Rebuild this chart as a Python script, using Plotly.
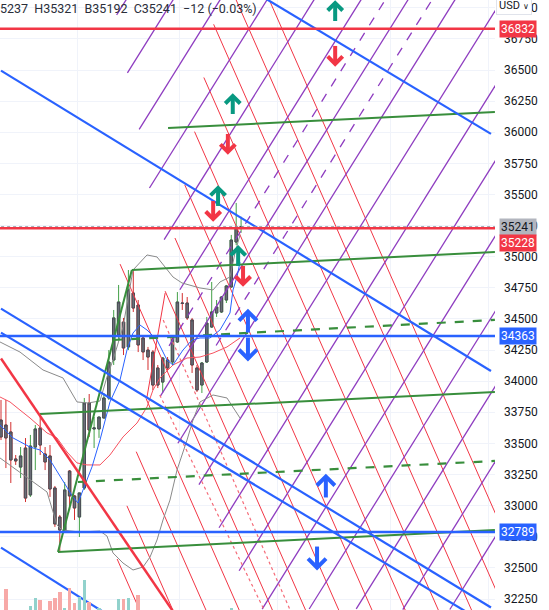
import plotly.graph_objects as go

# ---------------- data (bar index / price) ----------------
bars = list(range(50))
opens = [33688, 33648, 33592, 33375, 33310, 33463, 33086, 33471, 33624, 33415,
         33399, 33142, 32909, 32788, 33278, 33078, 32909, 33142, 33825, 33616,
         33616, 33704, 33865, 34170, 34371, 34475, 34275, 34708, 34612, 34347,
         34250, 34234, 34106, 33993, 34170, 34154, 34315, 34628, 34628, 34492,
         34106, 33969, 34154, 34435, 34548, 34556, 34652, 34757, 35118, 35237]
highs = [33849, 33849, 33672, 33407, 33471, 33543, 33568, 33648, 33728, 33471,
         33487, 33158, 32925, 33190, 33286, 33086, 33102, 33865, 33897, 33712,
         33712, 33905, 34250, 34572, 34773, 34508, 34893, 34893, 34652, 34363,
         34275, 34250, 34130, 34194, 34194, 34371, 34716, 34708, 34676, 34508,
         34130, 34154, 34516, 34797, 34652, 34684, 34773, 35175, 35432, 35321]
lows = [33527, 33302, 33182, 33327, 33222, 33029, 33070, 33286, 33407, 33286,
        33070, 32829, 32628, 32780, 32965, 32885, 32748, 33126, 33552, 33463,
        33544, 33704, 33849, 34130, 34331, 34210, 34250, 34556, 34234, 34170,
        34090, 33929, 33945, 33905, 34090, 34130, 34307, 34572, 34492, 34066,
        33913, 33905, 34146, 34427, 34516, 34548, 34628, 34749, 35094, 35192]
closes = [33552, 33544, 33367, 33359, 33399, 33061, 33479, 33616, 33487, 33351,
          33134, 32853, 32804, 33126, 33078, 32981, 33102, 33825, 33608, 33624,
          33712, 33865, 34154, 34508, 34636, 34267, 34733, 34588, 34291, 34235,
          34194, 33969, 33969, 34186, 34106, 34355, 34636, 34624, 34508, 34130,
          33929, 34146, 34467, 34556, 34596, 34676, 34765, 35134, 35239, 35241]
volumes = [0, 3.4, 0, 0, 0, 0, 0.7, 2.0, 1.6, 0,
           1.5, 2.0, 3.0, 0.4, 3.6, 1.1, 2.1, 4.9, 1.3, 0,
           0.3, 0, 0, 0, 1.8, 1.8, 2.0, 0, 2.5, 0,
           0, 0, 0, 0, 0, 0, 0, 0, 0, 0,
           0, 0, 0, 0, 0, 0, 0, 0.3, 0, 0]

# indicator lines
bb_up_x = [-0.2, 3.88, 8.57, 12.65, 14.08, 15.51, 17.76, 20.2, 21.63, 22.86, 24.9, 26.94,
           29.8, 31.84, 35.1, 36.94, 40.6, 43.27, 44.69, 46.73, 47.76, 48.78]
bb_up_y = [34315, 34234, 34090, 34026, 33929, 33833, 33825, 33841, 34034, 34170, 34435, 34893,
           35014, 34998, 34837, 34789, 34749, 34733, 34797, 34837, 35030, 35175]
bb_lo_x = [-0.2, 5.31, 9.39, 11.43, 12.45, 16.12, 20.2, 21.63, 22.86, 24.9, 26.94, 28.98,
           30.41, 31.84, 33.06, 34.49, 35.92, 37.96, 39.18, 40.61, 43.27, 46.12, 48.16, 48.78]
bb_lo_y = [33383, 33230, 33110, 32845, 32804, 32788, 32796, 32756, 32620, 32539, 32483, 32507,
           32587, 32724, 32885, 33045, 33286, 33527, 33688, 33833, 33889, 33865, 33744, 33704]
ma_blue_x = [-0.2, 2.45, 5.92, 7.96, 10, 12.45, 14.69, 15.71, 16.73, 18.57, 20.2, 21.63, 22.24,
             24.29, 25.71, 26.94, 28.37, 29.8, 31.84, 33.88, 35.1, 37.14, 38.98, 40.61, 42.65,
             44.69, 46.73, 47.35, 48.16, 48.78]
ma_blue_y = [33648, 33544, 33471, 33447, 33367, 33206, 33069, 33021, 33126, 33311, 33527, 33744,
             33833, 34010, 34250, 34387, 34451, 34411, 34331, 34170, 34130, 34250, 34331, 34347,
             34347, 34411, 34548, 34733, 34837, 34957]
ma_red_x = [-0.2, 1.84, 3.88, 5.92, 9.39, 11.43, 13.47, 15.51, 17.55, 20.2, 22.24, 24.9, 27.76,
            29.8, 31.02, 32.45, 35.1, 37.96, 40.61, 43.27, 46.12, 48.78]
ma_red_y = [33873, 33833, 33768, 33704, 33584, 33544, 33431, 33343, 33327, 33327, 33407, 33552,
            33664, 33793, 33929, 34026, 34130, 34186, 34194, 34226, 34275, 34347]

# drawings: straight lines as (bar, price) anchor pairs
blue_lines = [((0, 36495), (100, 34082)), ((50, 37168), (100, 35987)),
              ((0, 34583), (100, 32182)), ((0, 34390), (100, 32028)),
              ((0, 32663), (30, 31920))]
green_lines = [((34.1, 36034), (100.8, 36163)), ((26.7, 34893), (100.8, 35038)),
               ((7.96, 33736), (100.8, 33913)), ((11.63, 32628), (100.8, 32804)),
               ((11.63, 32628), (26.7, 34893))]
green_dashed = [((22.9, 34331), (100.8, 34492)), ((15.7, 33190), (100.8, 33359))]
red_thick = [((0, 34182), (40, 31868))]
red_steep = [((29.8, 33873), (33.5, 34708))]
pink_dotted = [((33.1, 34492), (59, 32162)), ((32.4, 33889), (53.7, 32162))]
h_blue = [34363, 32789]
h_red = [36832, 35228]
last_price = 35241

# parallel families: price = intercept + slope * bar, starting at a bar
purple_slope = 63.0
purple_icpt = [35455, 34851, 34247, 33643, 33039, 32435, 31831, 31227, 30623, 30019,
               29415, 28811, 28207, 27603, 26999, 26395]
purple_start = [23.6, 25.8, 28.2, 30.3, 33.3, 36.5, 32.5, 36.1, 40.4, 44.5,
                48.6, 53.3, 62.9, 72.5, 82.0, 91.6]
purple_dash_icpt = [32123, 31521]
purple_dash_start = [34.3, 43.9]
red_slope = -89.4
red_icpt = [34690, 35296, 35901, 36507, 37113, 37718, 38324, 38930, 39536, 40141,
            40747, 41353, 41958]
red_start = [23.7, 25.7, 27.6, 29.6, 24.3, 33.5, 35.5, 37.5, 39.5, 41.4, 43.4, 45.0, 52.0]

# arrows: (bar, price)
arrows_green = [(68.2, 36966), (47.3, 36219), (44.3, 35480), (48.4, 34998)]
arrows_red = [(68.2, 36621), (46.3, 35914), (43.3, 35375), (49.4, 34853)]
arrows_blue = [(50.4, 34475, 'up'), (50.4, 34266, 'down'), (66.3, 33150, 'up'), (64.5, 32587, 'down')]

price_tags = [(36832, 36832, '#f23645', 'white'), (35241, 35241, '#b2b5be', '#131722'),
              (35228, 35110, '#f23645', 'white'), (34363, 34363, '#2962ff', 'white'),
              (32789, 32789, '#2962ff', 'white')]
header = "5237  H35321  B35192  C35241  \u221212 (\u22120.03%)"

# ---------------- figure ----------------
X0, X1 = -0.204, 100.82
Y0, Y1 = 32161.6, 37062.4
PX = 1 / 4.9          # bar units per pixel
PY = 8.034            # price units per pixel

fig = go.Figure()

vol_colors = ['#92d2cc' if c >= o else '#f7a9a7' for o, c in zip(opens, closes)]
fig.add_trace(go.Bar(x=bars, y=volumes, marker_color=vol_colors, width=0.7,
                     marker_line_width=0, yaxis='y2', hoverinfo='skip'))

def seg(p, q, color, width, dash='solid', opacity=1.0):
    fig.add_trace(go.Scatter(x=[p[0], q[0]], y=[p[1], q[1]], mode='lines',
                             line=dict(color=color, width=width, dash=dash),
                             opacity=opacity, hoverinfo='skip'))

# families
for ic, st in zip(red_icpt, red_start):
    seg((st, ic + red_slope * st), (X1 + 5, ic + red_slope * (X1 + 5)), '#f23645', 1)
for ic, st in zip(purple_icpt, purple_start):
    seg((st, ic + purple_slope * st), (X1 + 5, ic + purple_slope * (X1 + 5)), '#8e3cc0', 1.3)
for ic, st in zip(purple_dash_icpt, purple_dash_start):
    seg((st, ic + purple_slope * st), (X1 + 5, ic + purple_slope * (X1 + 5)), '#8e3cc0', 1.3, 'dash')
for p, q in pink_dotted:
    seg(p, q, '#f56b78', 1.2, 'dot')
for p, q in red_steep:
    seg(p, q, '#f23645', 1)

# indicators
fig.add_trace(go.Scatter(x=bb_up_x, y=bb_up_y, mode='lines', line=dict(color='#8a8a8a', width=1), hoverinfo='skip'))
fig.add_trace(go.Scatter(x=bb_lo_x, y=bb_lo_y, mode='lines', line=dict(color='#8a8a8a', width=1), hoverinfo='skip'))
fig.add_trace(go.Scatter(x=ma_red_x, y=ma_red_y, mode='lines', line=dict(color='#f7525f', width=1), hoverinfo='skip'))
fig.add_trace(go.Scatter(x=ma_blue_x, y=ma_blue_y, mode='lines', line=dict(color='#2962ff', width=1), hoverinfo='skip'))

# candles: coloured wicks, grey bodies
fig.add_trace(go.Candlestick(x=bars, open=opens, high=highs, low=lows, close=closes,
                             increasing=dict(line=dict(color='#43a047', width=1), fillcolor='#6b6e78'),
                             decreasing=dict(line=dict(color='#d32f2f', width=1), fillcolor='#6b6e78'),
                             hoverinfo='skip'))
body_hi = [max(o, c) for o, c in zip(opens, closes)]
body_lo = [min(o, c) for o, c in zip(opens, closes)]
fig.add_trace(go.Candlestick(x=bars, open=body_lo, high=body_hi, low=body_lo, close=body_hi,
                             increasing=dict(line=dict(color='#4a4d56', width=1), fillcolor='#6b6e78'),
                             decreasing=dict(line=dict(color='#4a4d56', width=1), fillcolor='#6b6e78'),
                             hoverinfo='skip'))

# thick drawings
for p, q in green_lines:
    seg(p, q, '#388e3c', 2)
for p, q in green_dashed:
    seg(p, q, '#388e3c', 2.2, 'dash')
for p, q in red_thick:
    seg(p, q, '#f23645', 2.5)
for p, q in blue_lines:
    seg(p, q, '#2962ff', 2.2)
for h in h_blue:
    seg((X0 - 1, h), (X1 + 1, h), '#2962ff', 2.5)
seg((X0 - 1, last_price), (X1 + 1, last_price), '#9598a1', 1, 'dot')
for h in h_red:
    seg((X0 - 1, h), (X1 + 1, h), '#f23645', 2.5)

# arrows
def arrow(b, p, up, color, size=18, head=7):
    half = size / 2
    tip = p + (half * PY if up else -half * PY)
    tail = p - (half * PY if up else -half * PY)
    hy = tip - (head * PY if up else -head * PY)
    xs = [b, b, None, b - head * PX, b, b + head * PX]
    ys = [tail, tip, None, hy, tip, hy]
    fig.add_trace(go.Scatter(x=xs, y=ys, mode='lines', line=dict(color=color, width=4),
                             hoverinfo='skip'))

for b, p in arrows_green:
    arrow(b, p, True, '#089981', 18, 7.5)
for b, p in arrows_red:
    arrow(b, p, False, '#f23645', 18, 7.5)
for b, p, d in arrows_blue:
    arrow(b, p, d == 'up', '#2962ff', 21, 9)

annos = []
for val, pos, bg, fg in price_tags:
    annos.append(dict(xref='paper', yref='y', x=1, y=pos, xanchor='left', yanchor='middle',
                      xshift=4, text=str(val), showarrow=False, bgcolor=bg,
                      font=dict(color=fg, size=12, family='Roboto'), borderpad=1))
annos.append(dict(xref='paper', yref='paper', x=0, y=1, xanchor='left', yanchor='top',
                  xshift=-2, yshift=1, text=header, showarrow=False,
                  font=dict(color='#2a2e39', size=12.5, family='Roboto')))
annos.append(dict(xref='paper', yref='paper', x=1, y=1, xanchor='left', yanchor='top',
                  xshift=1, yshift=4,
                  text="USD <span style='font-size:8px'>\u2228</span>",
                  showarrow=False, bgcolor='white',
                  bordercolor='#e0e3eb', borderwidth=1, borderpad=2,
                  font=dict(color='#131722', size=11, family='Roboto')))

fig.update_layout(
    width=549, height=610, margin=dict(l=0, r=54, t=0, b=0, pad=0),
    paper_bgcolor='white', plot_bgcolor='white', showlegend=False,
    annotations=annos, bargap=0,
    xaxis=dict(range=[X0, X1], showticklabels=False, ticks='', zeroline=False,
               showgrid=True, gridcolor='#f0f3fa', tickvals=[15.7, 36.5, 56.5, 79.4, 99.4],
               rangeslider=dict(visible=False), fixedrange=True),
    yaxis=dict(range=[Y0, Y1], side='right', dtick=250, tick0=0, showgrid=True,
               gridcolor='#f0f3fa', zeroline=False, ticks='', ticklabelstandoff=8,
               tickfont=dict(color='#131722', size=12, family='Roboto'),
               tickformat='d', showline=False),
    yaxis2=dict(range=[0, 100], overlaying='y', visible=False),
)
fig.write_html("out.html", config={'displayModeBar': False},
               post_script="document.body.style.margin='0px';document.body.style.overflow='hidden';")
